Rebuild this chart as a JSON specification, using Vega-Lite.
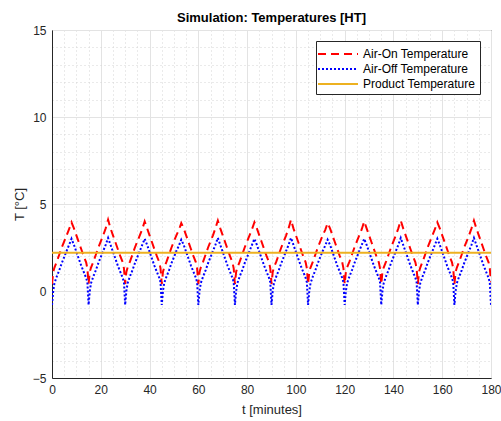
{
  "$schema": "https://vega.github.io/schema/vega-lite/v6.json",
  "width": 439,
  "height": 348,
  "autosize": "none",
  "padding": {"left": 52, "top": 30, "right": 10, "bottom": 43},
  "background": "white",
  "config": {
    "font": "Liberation Sans",
    "view": {"stroke": "#262626", "strokeWidth": 1},
    "axis": {"labelFont": "Liberation Sans", "titleFont": "Liberation Sans", "labelColor": "#262626", "titleColor": "#262626", "domainColor": "#262626"}
  },
  "title": {"text": "Simulation: Temperatures [HT]", "fontSize": 13, "fontWeight": "bold", "color": "#000000", "offset": -1, "anchor": "middle"},
  "data": {"values": [
    {"t":0,"on":0.4,"off":-0.8,"prod":2.2},{"t":0.5,"on":1.1,"off":0.0,"prod":2.2},{"t":1,"on":1.35,"off":0.45,"prod":2.2},{"t":2,"on":1.7,"off":0.85,"prod":2.2},{"t":3,"on":2.1,"off":1.2,"prod":2.2},{"t":4,"on":2.5,"off":1.6,"prod":2.2},{"t":5,"on":2.85,"off":1.95,"prod":2.2},{"t":6,"on":3.2,"off":2.3,"prod":2.2},{"t":7,"on":3.55,"off":2.65,"prod":2.2},{"t":8,"on":3.95,"off":3.0,"prod":2.2},{"t":9,"on":3.6,"off":2.65,"prod":2.2},{"t":10,"on":3.2,"off":2.25,"prod":2.2},{"t":11,"on":2.8,"off":1.85,"prod":2.2},{"t":12,"on":2.4,"off":1.45,"prod":2.2},{"t":13,"on":2.0,"off":1.1,"prod":2.2},{"t":14,"on":1.65,"off":0.75,"prod":2.2},{"t":14.5,"on":1.3,"off":0.5,"prod":2.2},
    {"t":15,"on":0.4,"off":-0.8,"prod":2.2},{"t":15.5,"on":1.1,"off":0.0,"prod":2.2},{"t":16,"on":1.35,"off":0.45,"prod":2.2},{"t":17,"on":1.7,"off":0.85,"prod":2.2},{"t":18,"on":2.1,"off":1.2,"prod":2.2},{"t":19,"on":2.5,"off":1.6,"prod":2.2},{"t":20,"on":2.85,"off":1.95,"prod":2.2},{"t":21,"on":3.2,"off":2.3,"prod":2.2},{"t":22,"on":3.6,"off":2.65,"prod":2.2},{"t":23,"on":4.1,"off":3.05,"prod":2.2},{"t":24,"on":3.6,"off":2.65,"prod":2.2},{"t":25,"on":3.2,"off":2.25,"prod":2.2},{"t":26,"on":2.8,"off":1.85,"prod":2.2},{"t":27,"on":2.4,"off":1.45,"prod":2.2},{"t":28,"on":2.0,"off":1.1,"prod":2.2},{"t":29,"on":1.65,"off":0.75,"prod":2.2},{"t":29.5,"on":1.3,"off":0.5,"prod":2.2},
    {"t":30,"on":0.4,"off":-0.8,"prod":2.2},{"t":30.5,"on":1.1,"off":0.0,"prod":2.2},{"t":31,"on":1.35,"off":0.45,"prod":2.2},{"t":32,"on":1.7,"off":0.85,"prod":2.2},{"t":33,"on":2.1,"off":1.2,"prod":2.2},{"t":34,"on":2.5,"off":1.6,"prod":2.2},{"t":35,"on":2.85,"off":1.95,"prod":2.2},{"t":36,"on":3.2,"off":2.3,"prod":2.2},{"t":37,"on":3.55,"off":2.65,"prod":2.2},{"t":38,"on":4.0,"off":3.0,"prod":2.2},{"t":39,"on":3.6,"off":2.65,"prod":2.2},{"t":40,"on":3.2,"off":2.25,"prod":2.2},{"t":41,"on":2.8,"off":1.85,"prod":2.2},{"t":42,"on":2.4,"off":1.45,"prod":2.2},{"t":43,"on":2.0,"off":1.1,"prod":2.2},{"t":44,"on":1.65,"off":0.75,"prod":2.2},{"t":44.5,"on":1.3,"off":0.5,"prod":2.2},
    {"t":45,"on":0.4,"off":-0.8,"prod":2.2},{"t":45.5,"on":1.1,"off":0.0,"prod":2.2},{"t":46,"on":1.35,"off":0.45,"prod":2.2},{"t":47,"on":1.7,"off":0.85,"prod":2.2},{"t":48,"on":2.1,"off":1.2,"prod":2.2},{"t":49,"on":2.5,"off":1.6,"prod":2.2},{"t":50,"on":2.85,"off":1.95,"prod":2.2},{"t":51,"on":3.2,"off":2.3,"prod":2.2},{"t":52,"on":3.5,"off":2.6,"prod":2.2},{"t":53,"on":3.9,"off":2.95,"prod":2.2},{"t":54,"on":3.6,"off":2.65,"prod":2.2},{"t":55,"on":3.2,"off":2.25,"prod":2.2},{"t":56,"on":2.8,"off":1.85,"prod":2.2},{"t":57,"on":2.4,"off":1.45,"prod":2.2},{"t":58,"on":2.0,"off":1.1,"prod":2.2},{"t":59,"on":1.65,"off":0.75,"prod":2.2},{"t":59.5,"on":1.3,"off":0.5,"prod":2.2},
    {"t":60,"on":0.4,"off":-0.8,"prod":2.2},{"t":60.5,"on":1.1,"off":0.0,"prod":2.2},{"t":61,"on":1.35,"off":0.45,"prod":2.2},{"t":62,"on":1.7,"off":0.85,"prod":2.2},{"t":63,"on":2.1,"off":1.2,"prod":2.2},{"t":64,"on":2.5,"off":1.6,"prod":2.2},{"t":65,"on":2.85,"off":1.95,"prod":2.2},{"t":66,"on":3.2,"off":2.3,"prod":2.2},{"t":67,"on":3.6,"off":2.65,"prod":2.2},{"t":68,"on":4.05,"off":3.05,"prod":2.2},{"t":69,"on":3.6,"off":2.65,"prod":2.2},{"t":70,"on":3.2,"off":2.25,"prod":2.2},{"t":71,"on":2.8,"off":1.85,"prod":2.2},{"t":72,"on":2.4,"off":1.45,"prod":2.2},{"t":73,"on":2.0,"off":1.1,"prod":2.2},{"t":74,"on":1.65,"off":0.75,"prod":2.2},{"t":74.5,"on":1.3,"off":0.5,"prod":2.2},
    {"t":75,"on":0.4,"off":-0.8,"prod":2.2},{"t":75.5,"on":1.1,"off":0.0,"prod":2.2},{"t":76,"on":1.35,"off":0.45,"prod":2.2},{"t":77,"on":1.7,"off":0.85,"prod":2.2},{"t":78,"on":2.1,"off":1.2,"prod":2.2},{"t":79,"on":2.5,"off":1.6,"prod":2.2},{"t":80,"on":2.85,"off":1.95,"prod":2.2},{"t":81,"on":3.2,"off":2.3,"prod":2.2},{"t":82,"on":3.55,"off":2.65,"prod":2.2},{"t":83,"on":3.95,"off":3.0,"prod":2.2},{"t":84,"on":3.6,"off":2.65,"prod":2.2},{"t":85,"on":3.2,"off":2.25,"prod":2.2},{"t":86,"on":2.8,"off":1.85,"prod":2.2},{"t":87,"on":2.4,"off":1.45,"prod":2.2},{"t":88,"on":2.0,"off":1.1,"prod":2.2},{"t":89,"on":1.65,"off":0.75,"prod":2.2},{"t":89.5,"on":1.3,"off":0.5,"prod":2.2},
    {"t":90,"on":0.4,"off":-0.8,"prod":2.2},{"t":90.5,"on":1.1,"off":0.0,"prod":2.2},{"t":91,"on":1.35,"off":0.45,"prod":2.2},{"t":92,"on":1.7,"off":0.85,"prod":2.2},{"t":93,"on":2.1,"off":1.2,"prod":2.2},{"t":94,"on":2.5,"off":1.6,"prod":2.2},{"t":95,"on":2.85,"off":1.95,"prod":2.2},{"t":96,"on":3.2,"off":2.3,"prod":2.2},{"t":97,"on":3.6,"off":2.65,"prod":2.2},{"t":98,"on":4.1,"off":3.05,"prod":2.2},{"t":99,"on":3.6,"off":2.65,"prod":2.2},{"t":100,"on":3.2,"off":2.25,"prod":2.2},{"t":101,"on":2.8,"off":1.85,"prod":2.2},{"t":102,"on":2.4,"off":1.45,"prod":2.2},{"t":103,"on":2.0,"off":1.1,"prod":2.2},{"t":104,"on":1.65,"off":0.75,"prod":2.2},{"t":104.5,"on":1.3,"off":0.5,"prod":2.2},
    {"t":105,"on":0.4,"off":-0.8,"prod":2.2},{"t":105.5,"on":1.1,"off":0.0,"prod":2.2},{"t":106,"on":1.35,"off":0.45,"prod":2.2},{"t":107,"on":1.7,"off":0.85,"prod":2.2},{"t":108,"on":2.1,"off":1.2,"prod":2.2},{"t":109,"on":2.5,"off":1.6,"prod":2.2},{"t":110,"on":2.85,"off":1.95,"prod":2.2},{"t":111,"on":3.2,"off":2.3,"prod":2.2},{"t":112,"on":3.5,"off":2.6,"prod":2.2},{"t":113,"on":3.9,"off":2.95,"prod":2.2},{"t":114,"on":3.6,"off":2.65,"prod":2.2},{"t":115,"on":3.2,"off":2.25,"prod":2.2},{"t":116,"on":2.8,"off":1.85,"prod":2.2},{"t":117,"on":2.4,"off":1.45,"prod":2.2},{"t":118,"on":2.0,"off":1.1,"prod":2.2},{"t":119,"on":1.65,"off":0.75,"prod":2.2},{"t":119.5,"on":1.3,"off":0.5,"prod":2.2},
    {"t":120,"on":0.4,"off":-0.8,"prod":2.2},{"t":120.5,"on":1.1,"off":0.0,"prod":2.2},{"t":121,"on":1.35,"off":0.45,"prod":2.2},{"t":122,"on":1.7,"off":0.85,"prod":2.2},{"t":123,"on":2.1,"off":1.2,"prod":2.2},{"t":124,"on":2.5,"off":1.6,"prod":2.2},{"t":125,"on":2.85,"off":1.95,"prod":2.2},{"t":126,"on":3.2,"off":2.3,"prod":2.2},{"t":127,"on":3.55,"off":2.65,"prod":2.2},{"t":128,"on":4.0,"off":3.0,"prod":2.2},{"t":129,"on":3.6,"off":2.65,"prod":2.2},{"t":130,"on":3.2,"off":2.25,"prod":2.2},{"t":131,"on":2.8,"off":1.85,"prod":2.2},{"t":132,"on":2.4,"off":1.45,"prod":2.2},{"t":133,"on":2.0,"off":1.1,"prod":2.2},{"t":134,"on":1.65,"off":0.75,"prod":2.2},{"t":134.5,"on":1.3,"off":0.5,"prod":2.2},
    {"t":135,"on":0.4,"off":-0.8,"prod":2.2},{"t":135.5,"on":1.1,"off":0.0,"prod":2.2},{"t":136,"on":1.35,"off":0.45,"prod":2.2},{"t":137,"on":1.7,"off":0.85,"prod":2.2},{"t":138,"on":2.1,"off":1.2,"prod":2.2},{"t":139,"on":2.5,"off":1.6,"prod":2.2},{"t":140,"on":2.85,"off":1.95,"prod":2.2},{"t":141,"on":3.2,"off":2.3,"prod":2.2},{"t":142,"on":3.6,"off":2.65,"prod":2.2},{"t":143,"on":4.05,"off":3.05,"prod":2.2},{"t":144,"on":3.6,"off":2.65,"prod":2.2},{"t":145,"on":3.2,"off":2.25,"prod":2.2},{"t":146,"on":2.8,"off":1.85,"prod":2.2},{"t":147,"on":2.4,"off":1.45,"prod":2.2},{"t":148,"on":2.0,"off":1.1,"prod":2.2},{"t":149,"on":1.65,"off":0.75,"prod":2.2},{"t":149.5,"on":1.3,"off":0.5,"prod":2.2},
    {"t":150,"on":0.4,"off":-0.8,"prod":2.2},{"t":150.5,"on":1.1,"off":0.0,"prod":2.2},{"t":151,"on":1.35,"off":0.45,"prod":2.2},{"t":152,"on":1.7,"off":0.85,"prod":2.2},{"t":153,"on":2.1,"off":1.2,"prod":2.2},{"t":154,"on":2.5,"off":1.6,"prod":2.2},{"t":155,"on":2.85,"off":1.95,"prod":2.2},{"t":156,"on":3.2,"off":2.3,"prod":2.2},{"t":157,"on":3.55,"off":2.65,"prod":2.2},{"t":158,"on":3.95,"off":3.0,"prod":2.2},{"t":159,"on":3.6,"off":2.65,"prod":2.2},{"t":160,"on":3.2,"off":2.25,"prod":2.2},{"t":161,"on":2.8,"off":1.85,"prod":2.2},{"t":162,"on":2.4,"off":1.45,"prod":2.2},{"t":163,"on":2.0,"off":1.1,"prod":2.2},{"t":164,"on":1.65,"off":0.75,"prod":2.2},{"t":164.5,"on":1.3,"off":0.5,"prod":2.2},
    {"t":165,"on":0.4,"off":-0.8,"prod":2.2},{"t":165.5,"on":1.1,"off":0.0,"prod":2.2},{"t":166,"on":1.35,"off":0.45,"prod":2.2},{"t":167,"on":1.7,"off":0.85,"prod":2.2},{"t":168,"on":2.1,"off":1.2,"prod":2.2},{"t":169,"on":2.5,"off":1.6,"prod":2.2},{"t":170,"on":2.85,"off":1.95,"prod":2.2},{"t":171,"on":3.2,"off":2.3,"prod":2.2},{"t":172,"on":3.6,"off":2.65,"prod":2.2},{"t":173,"on":4.05,"off":3.05,"prod":2.2},{"t":174,"on":3.6,"off":2.65,"prod":2.2},{"t":175,"on":3.2,"off":2.25,"prod":2.2},{"t":176,"on":2.8,"off":1.85,"prod":2.2},{"t":177,"on":2.4,"off":1.45,"prod":2.2},{"t":178,"on":2.0,"off":1.1,"prod":2.2},{"t":179,"on":1.65,"off":0.75,"prod":2.2},{"t":179.5,"on":1.3,"off":0.5,"prod":2.2},
    {"t":180,"on":0.5,"off":-0.8,"prod":2.2}
  ]},
  "transform": [{"fold": ["on", "off", "prod"], "as": ["series", "T"]}],
  "mark": {"type": "line", "clip": true},
  "encoding": {
    "x": {
      "field": "t", "type": "quantitative",
      "scale": {"domain": [0, 180], "nice": false, "zero": false},
      "axis": {
        "title": "t [minutes]", "titleFontSize": 13, "titleFontWeight": "normal", "titlePadding": 8,
        "values": [0,5,10,15,20,25,30,35,40,45,50,55,60,65,70,75,80,85,90,95,100,105,110,115,120,125,130,135,140,145,150,155,160,165,170,175,180],
        "labelExpr": "datum.value % 20 === 0 ? datum.label : ''",
        "labelFontSize": 12, "labelPadding": 6, "labelFlush": false,
        "ticks": false,
        "grid": true,
        "gridDash": {"condition": {"test": "datum.value % 20 === 0", "value": []}, "value": [1, 3]},
        "gridColor": {"condition": {"test": "datum.value % 20 === 0", "value": "#e3e3e3"}, "value": "#d4d4d4"},
        "gridWidth": 1
      }
    },
    "y": {
      "field": "T", "type": "quantitative",
      "scale": {"domain": [-5, 15], "nice": false, "zero": false},
      "axis": {
        "title": "T [°C]", "titleFontSize": 13, "titleFontWeight": "normal", "titlePadding": 6,
        "values": [-5,-4,-3,-2,-1,0,1,2,3,4,5,6,7,8,9,10,11,12,13,14,15],
        "labelExpr": "datum.value % 5 === 0 ? datum.label : ''",
        "labelFontSize": 12, "labelPadding": 6, "labelFlush": false,
        "ticks": false,
        "grid": true,
        "gridDash": {"condition": {"test": "datum.value % 5 === 0", "value": []}, "value": [1, 3]},
        "gridColor": {"condition": {"test": "datum.value % 5 === 0", "value": "#e3e3e3"}, "value": "#d4d4d4"},
        "gridWidth": 1
      }
    },
    "color": {
      "field": "series", "type": "nominal",
      "scale": {"domain": ["on", "off", "prod"], "range": ["#ff0000", "#0000ff", "#EDB120"]},
      "legend": {
        "title": null, "orient": "top-right", "offset": 11,
        "fillColor": "white", "strokeColor": "#262626", "padding": 4,
        "labelExpr": "datum.value === 'on' ? 'Air-On Temperature' : datum.value === 'off' ? 'Air-Off Temperature' : 'Product Temperature'",
        "labelFontSize": 12, "labelColor": "#000000", "labelFont": "Liberation Sans",
        "symbolType": "M-2.5,0H2.5", "symbolSize": 256, "symbolStrokeWidth": 2, "symbolOffset": 9, "labelOffset": 16, "rowPadding": 0
      }
    },
    "strokeDash": {
      "field": "series", "type": "nominal",
      "scale": {"domain": ["on", "off", "prod"], "range": [[8, 5], [2, 2], [1, 0]]},
      "legend": {
        "title": null, "orient": "top-right", "offset": 11,
        "fillColor": "white", "strokeColor": "#262626", "padding": 4,
        "labelExpr": "datum.value === 'on' ? 'Air-On Temperature' : datum.value === 'off' ? 'Air-Off Temperature' : 'Product Temperature'",
        "labelFontSize": 12, "labelColor": "#000000", "labelFont": "Liberation Sans",
        "symbolType": "M-2.5,0H2.5", "symbolSize": 256, "symbolStrokeWidth": 2, "symbolOffset": 9, "labelOffset": 16, "rowPadding": 0
      }
    },
    "strokeWidth": {"value": 2}
  }
}
